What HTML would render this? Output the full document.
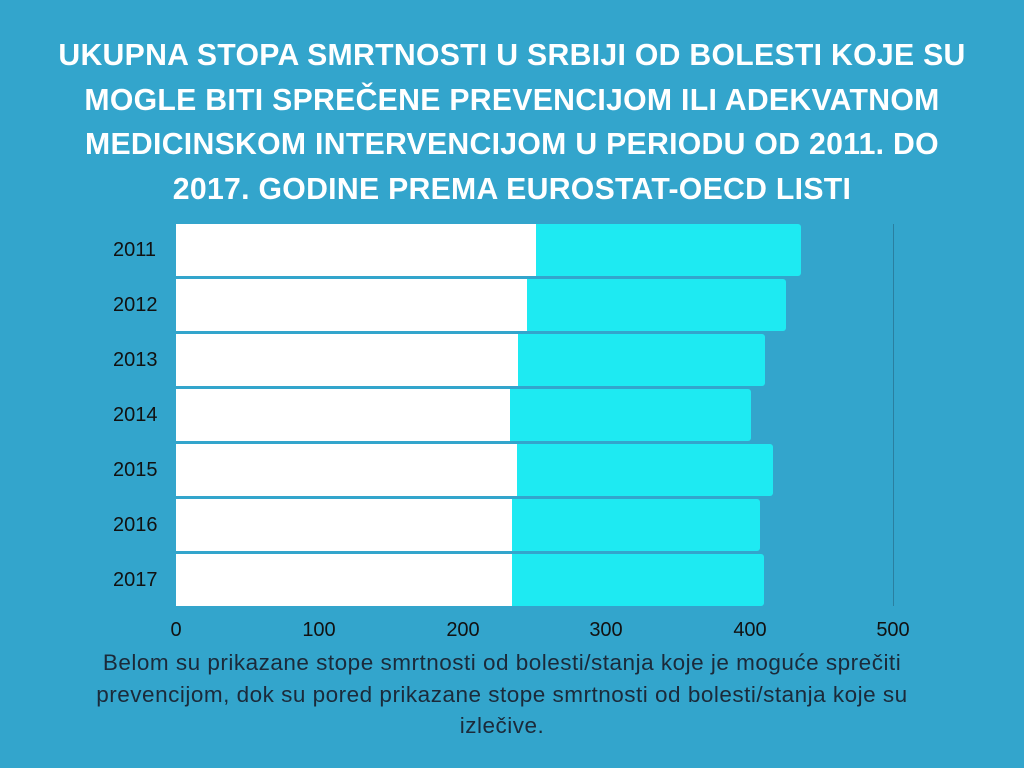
<!DOCTYPE html>
<html><head><style>
body{margin:0;width:1024px;height:768px;background:#33a5cc;font-family:"Liberation Sans",sans-serif;position:relative;overflow:hidden}
.t{position:absolute;left:0;width:1024px;text-align:center;color:#fff;font-weight:bold;font-size:30.2px;line-height:44.5px;top:34px;letter-spacing:0.3px}
.b{position:absolute;height:52px}
.w{background:#fff}
.c{background:#1eeaf2;border-radius:0 3px 3px 0}
.y{position:absolute;left:113px;font-size:20px;color:#111}
.x{position:absolute;top:619px;font-size:20px;color:#111;width:60px;margin-left:-30px;text-align:center}
.cap{position:absolute;left:0;width:1004px;text-align:center;top:647px;font-size:22.5px;line-height:31.5px;color:#1b2a3a;letter-spacing:0.5px}
</style></head><body>
<div class="t">UKUPNA STOPA SMRTNOSTI U SRBIJI OD BOLESTI KOJE SU<br>MOGLE BITI SPREČENE PREVENCIJOM ILI ADEKVATNOM<br>MEDICINSKOM INTERVENCIJOM U PERIODU OD 2011. DO<br>2017. GODINE PREMA EUROSTAT-OECD LISTI</div>
<div style="position:absolute;left:893px;top:224px;width:1px;height:382px;background:#2a7fa0"></div>
<div class="b w" style="left:176px;top:224px;width:360px"></div><div class="b c" style="left:536px;top:224px;width:265px"></div>
<div class="b w" style="left:176px;top:279px;width:351px"></div><div class="b c" style="left:527px;top:279px;width:259px"></div>
<div class="b w" style="left:176px;top:334px;width:342px"></div><div class="b c" style="left:518px;top:334px;width:247px"></div>
<div class="b w" style="left:176px;top:389px;width:334px"></div><div class="b c" style="left:510px;top:389px;width:241px"></div>
<div class="b w" style="left:176px;top:444px;width:341px"></div><div class="b c" style="left:517px;top:444px;width:256px"></div>
<div class="b w" style="left:176px;top:499px;width:336px"></div><div class="b c" style="left:512px;top:499px;width:248px"></div>
<div class="b w" style="left:176px;top:554px;width:336px"></div><div class="b c" style="left:512px;top:554px;width:252px"></div>
<div class="y" style="top:239px">2011</div><div class="y" style="top:294px">2012</div><div class="y" style="top:349px">2013</div><div class="y" style="top:404px">2014</div><div class="y" style="top:459px">2015</div><div class="y" style="top:514px">2016</div><div class="y" style="top:569px">2017</div>
<div class="x" style="left:176px">0</div><div class="x" style="left:319px">100</div><div class="x" style="left:463px">200</div><div class="x" style="left:606px">300</div><div class="x" style="left:750px">400</div><div class="x" style="left:893px">500</div>
<div class="cap">Belom su prikazane stope smrtnosti od bolesti/stanja koje je moguće sprečiti<br>prevencijom, dok su pored prikazane stope smrtnosti od bolesti/stanja koje su<br>izlečive.</div>
</body></html>
